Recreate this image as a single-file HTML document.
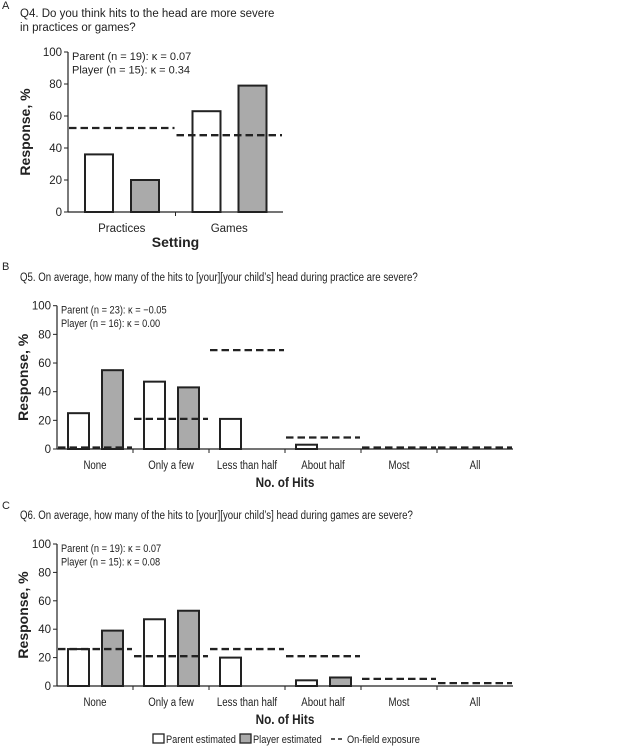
<!DOCTYPE html>
<html><head><meta charset="utf-8">
<style>
html,body{margin:0;padding:0;background:#fff;}
svg{display:block;font-family:"Liberation Sans",Arial,sans-serif;}
</style></head>
<body>
<svg id="fig" width="640" height="746" viewBox="0 0 640 746" xmlns="http://www.w3.org/2000/svg">
<g id="pA"></g>
<g id="pB"></g>
<g id="pC"></g>
<g id="legend">
  <rect x="153" y="734" width="11" height="9" fill="#fff" stroke="#222" stroke-width="1.3"/>
  <text class="cond" x="166" y="743" font-size="11" fill="#222">Parent estimated</text>
  <rect x="240" y="734" width="11" height="9" fill="#aaa" stroke="#222" stroke-width="1.3"/>
  <text class="cond" x="253" y="743" font-size="11" fill="#222">Player estimated</text>
  <line x1="331" y1="739" x2="345" y2="739" stroke="#222" stroke-width="1.5" stroke-dasharray="4,3"/>
  <text class="cond" x="347" y="743" font-size="11" fill="#222">On-field exposure</text>
</g>
</svg>
<script>
const NS="http://www.w3.org/2000/svg";
// Panel A data
const catsA=["Practices","Games"];
const parentA=[36,63];
const playerA=[20,79];
const exposureA=[52.5,48];
// Panel B data
const catsB=["None","Only a few","Less than half","About half","Most","All"];
const parentB=[25,47,21,3,0,0];
const playerB=[55,43,0,0,0,0];
const exposureB=[1,21,69,8,1,1];
// Panel C data
const catsC=["None","Only a few","Less than half","About half","Most","All"];
const parentC=[26,47,20,4,0,0];
const playerC=[39,53,0,6,0,0];
const exposureC=[26,21,26,21,5,2];
const yTicks=[0,20,40,60,80,100];

function mk(parent,tag,attrs,text){
  const e=document.createElementNS(NS,tag);
  for(const k in attrs)e.setAttribute(k,attrs[k]);
  if(text!==undefined)e.textContent=text;
  parent.appendChild(e);return e;
}
function panel(g,cfg){
  const {x0,x1,yTop,yBot,cats,par,ply,exp,letter,letterY,titles,titleY,notes,xTitle,parOff,plyOff,barW,labelY,xTitleY,yTitleX,prefix,cond}=cfg;
  const cls=cond?"cond":"";
  const yS=v=>yBot-(v/100)*(yBot-yTop);
  const cw=(x1-x0)/cats.length;
  const xS=i=>x0+i*cw;
  let t=mk(g,"text",{x:2,y:letterY,"font-size":11,fill:"#222"},letter);
  
  
  titles.forEach((s,i)=>{
    const tt=mk(g,"text",{x:20,y:titleY+i*14,"font-size":11.5,fill:"#222",class:cls},s);
    
    
  });
  notes.forEach((s,i)=>{
    const tt=mk(g,"text",{x:x0+4,y:yTop+8+i*13.5,"font-size":11,fill:"#222",class:cls},s);
    
    
  });
  let ya=mk(g,"line",{x1:x0,y1:yTop,x2:x0,y2:yBot,stroke:"#222","stroke-width":1.2});
  
  
  let xa=mk(g,"line",{x1:x0,y1:yBot,x2:x1,y2:yBot,stroke:"#222","stroke-width":1.2});
  
  
  yTicks.forEach(v=>{
    const tk=mk(g,"line",{x1:x0-4,y1:yS(v),x2:x0,y2:yS(v),stroke:"#222","stroke-width":1});
    
    
    const tl=mk(g,"text",{x:x0-6,y:yS(v)+4,"font-size":11.5,"text-anchor":"end",fill:"#222"},String(v));
    
    
  });
  for(let i=1;i<cats.length;i++){
    const tk=mk(g,"line",{x1:xS(i),y1:yBot,x2:xS(i),y2:yBot+4,stroke:"#222","stroke-width":1});
    
    
  }
  cats.forEach((c,i)=>{
    const tl=mk(g,"text",{x:xS(i)+cw/2,y:labelY,"font-size":11.5,"text-anchor":"middle",fill:"#222",class:cls},c);
    
    
    if(par[i]>0){
      const b=mk(g,"rect",{x:xS(i)+parOff,y:yS(par[i]),width:barW,height:yBot-yS(par[i]),fill:"#fff",stroke:"#222","stroke-width":2});
      
      
    }
    if(ply[i]>0){
      const b=mk(g,"rect",{x:xS(i)+plyOff,y:yS(ply[i]),width:barW,height:yBot-yS(ply[i]),fill:"#aaa",stroke:"#222","stroke-width":2});
      
      
    }
  });
  exp.forEach((v,i)=>{
    const l=mk(g,"line",{x1:xS(i)+1,y1:yS(v),x2:xS(i)+cw-1,y2:yS(v),stroke:"#222","stroke-width":2.3,"stroke-dasharray":"7.5,4"});
    
    
  });
  const xt=mk(g,"text",{x:(x0+x1)/2,y:xTitleY,"font-size":14,"font-weight":"bold","text-anchor":"middle",fill:"#222",class:cls},xTitle);
  
  
  const cy=(yTop+yBot)/2;
  const yt=mk(g,"text",{x:yTitleX,y:cy,"font-size":14,"font-weight":"bold","text-anchor":"middle",fill:"#222",transform:`rotate(-90 ${yTitleX} ${cy})`},"Response, %");
  
  
}
panel(document.getElementById('pA'),{prefix:'a',x0:68,x1:283,yTop:52,yBot:212,cats:catsA,par:parentA,ply:playerA,exp:exposureA,
  letter:"A",letterY:9,titles:["Q4. Do you think hits to the head are more severe","in practices or games?"],titleY:17,
  notes:["Parent (n = 19): κ = 0.07","Player (n = 15): κ = 0.34"],xTitle:"Setting",parOff:17,plyOff:63,barW:28,labelY:232,xTitleY:247,yTitleX:30,cond:false});
panel(document.getElementById('pB'),{prefix:'b',x0:57,x1:513,yTop:305.7,yBot:449,cats:catsB,par:parentB,ply:playerB,exp:exposureB,
  letter:"B",letterY:270,titles:["Q5. On average, how many of the hits to [your][your child’s] head during practice are severe?"],titleY:281,
  notes:["Parent (n = 23): κ = −0.05","Player (n = 16): κ = 0.00"],xTitle:"No. of Hits",parOff:11,plyOff:45,barW:21,labelY:469,xTitleY:487,yTitleX:28,cond:true});
panel(document.getElementById('pC'),{prefix:'c',x0:57,x1:513,yTop:544,yBot:686,cats:catsC,par:parentC,ply:playerC,exp:exposureC,
  letter:"C",letterY:509,titles:["Q6. On average, how many of the hits to [your][your child’s] head during games are severe?"],titleY:519,
  notes:["Parent (n = 19): κ = 0.07","Player (n = 15): κ = 0.08"],xTitle:"No. of Hits",parOff:11,plyOff:45,barW:21,labelY:706,xTitleY:724,yTitleX:28,cond:true});
// condense B/C/legend text to match narrow typeface
document.querySelectorAll('text.cond').forEach(el=>{
  const w=el.getComputedTextLength();
  el.setAttribute('textLength',(w*0.84).toFixed(1));
  el.setAttribute('lengthAdjust','spacingAndGlyphs');
});
</script>
</body></html>
